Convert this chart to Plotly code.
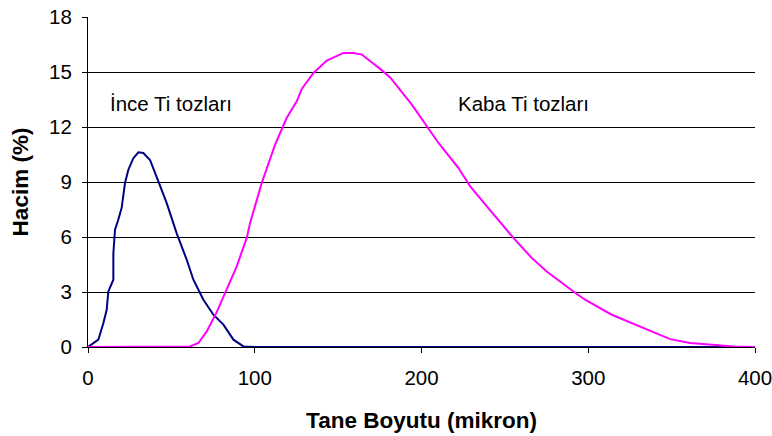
import plotly.graph_objects as go

# Particle size distribution of fine and coarse Ti powders
ince_boyut = [0, 3.2, 6.2, 9.2, 11.2, 12.2, 15.2, 15.2, 16.2, 18.2, 20.2, 22.2, 24.2, 27.2,
              30.2, 33.2, 37.2, 42.2, 47.2, 53.2, 59.2, 63.2, 69.2, 75.2, 81.2, 87.2, 93.2,
              100, 150, 200, 250, 300, 350, 400]
ince_hacim = [0, 0.22, 0.4, 1.3, 2.03, 3.03, 3.67, 5.1, 6.4, 6.95, 7.6, 8.95, 9.67, 10.3,
              10.62, 10.58, 10.2, 9.03, 7.85, 6.2, 4.76, 3.67, 2.58, 1.76, 1.22, 0.4, 0.03,
              0, 0, 0, 0, 0, 0, 0]

kaba_boyut = [0, 20, 40, 59.2, 61.2, 66.2, 71.2, 77.2, 83.2, 89.2, 95.2, 97.2, 104.2, 110.2,
              112.2, 119.2, 125.2, 128.2, 135.2, 143.2, 153.2, 159.2, 164.2, 175.2, 181.2,
              194.2, 203.2, 210.2, 222.2, 229.2, 239.2, 255.1, 266.1, 275.1, 291.1, 298.1,
              314.1, 331.1, 349.1, 361.1, 377.1, 387.1, 400]
kaba_hacim = [0, 0, 0, 0, 0.03, 0.22, 0.85, 1.9, 3.13, 4.4, 5.95, 6.76, 8.95, 10.58,
              11.04, 12.5, 13.4, 14.08, 14.95, 15.62, 16.04, 16.04, 15.95, 15.17, 14.7,
              13.22, 12.03, 11.13, 9.76, 8.76, 7.67, 5.95, 4.86, 4.12, 3.03, 2.58,
              1.76, 1.12, 0.43, 0.22, 0.09, 0.03, 0]

x_ticks = [0, 100, 200, 300, 400]
y_ticks = [0, 3, 6, 9, 12, 15, 18]

font_family = "Arial, 'Liberation Sans', sans-serif"

fig = go.Figure()
fig.add_trace(go.Scatter(x=ince_boyut, y=ince_hacim, mode="lines",
                         line=dict(color="#000080", width=2), name="İnce Ti tozları",
                         cliponaxis=False))
fig.add_trace(go.Scatter(x=kaba_boyut, y=kaba_hacim, mode="lines",
                         line=dict(color="#FF00FF", width=2), name="Kaba Ti tozları",
                         cliponaxis=False))

fig.add_annotation(x=50, y=13.3, text="İnce Ti tozları", showarrow=False,
                   font=dict(size=20.5, color="black", family=font_family))
fig.add_annotation(x=261, y=13.3, text="Kaba Ti tozları", showarrow=False,
                   font=dict(size=20.5, color="black", family=font_family))

fig.update_layout(
    width=772, height=436,
    margin=dict(l=88, r=17, t=17, b=89),
    paper_bgcolor="white", plot_bgcolor="white",
    showlegend=False,
    font=dict(family=font_family, color="black", size=20),
    xaxis=dict(
        range=[0, 400], tickvals=x_ticks, ticks="outside", ticklen=5, tickcolor="black",
        showline=True, linecolor="black", linewidth=1, showgrid=False, zeroline=False,
        tickfont=dict(size=20.5), ticklabelstandoff=7, automargin=False,
        ticklabeloverflow="allow",
        title=dict(text="<b>Tane Boyutu (mikron)</b>", font=dict(size=22.5), standoff=24),
    ),
    yaxis=dict(
        range=[0, 18], tickvals=y_ticks, ticks="outside", ticklen=5, tickcolor="black",
        showline=True, linecolor="black", linewidth=1, showgrid=True, gridcolor="black",
        gridwidth=1, zeroline=False, tickfont=dict(size=20.5), ticklabelstandoff=6,
        automargin=False, ticklabeloverflow="allow",
        title=dict(text="<b>Hacim (%)</b>", font=dict(size=22.5), standoff=14),
    ),
)

fig.write_html("out.html")
